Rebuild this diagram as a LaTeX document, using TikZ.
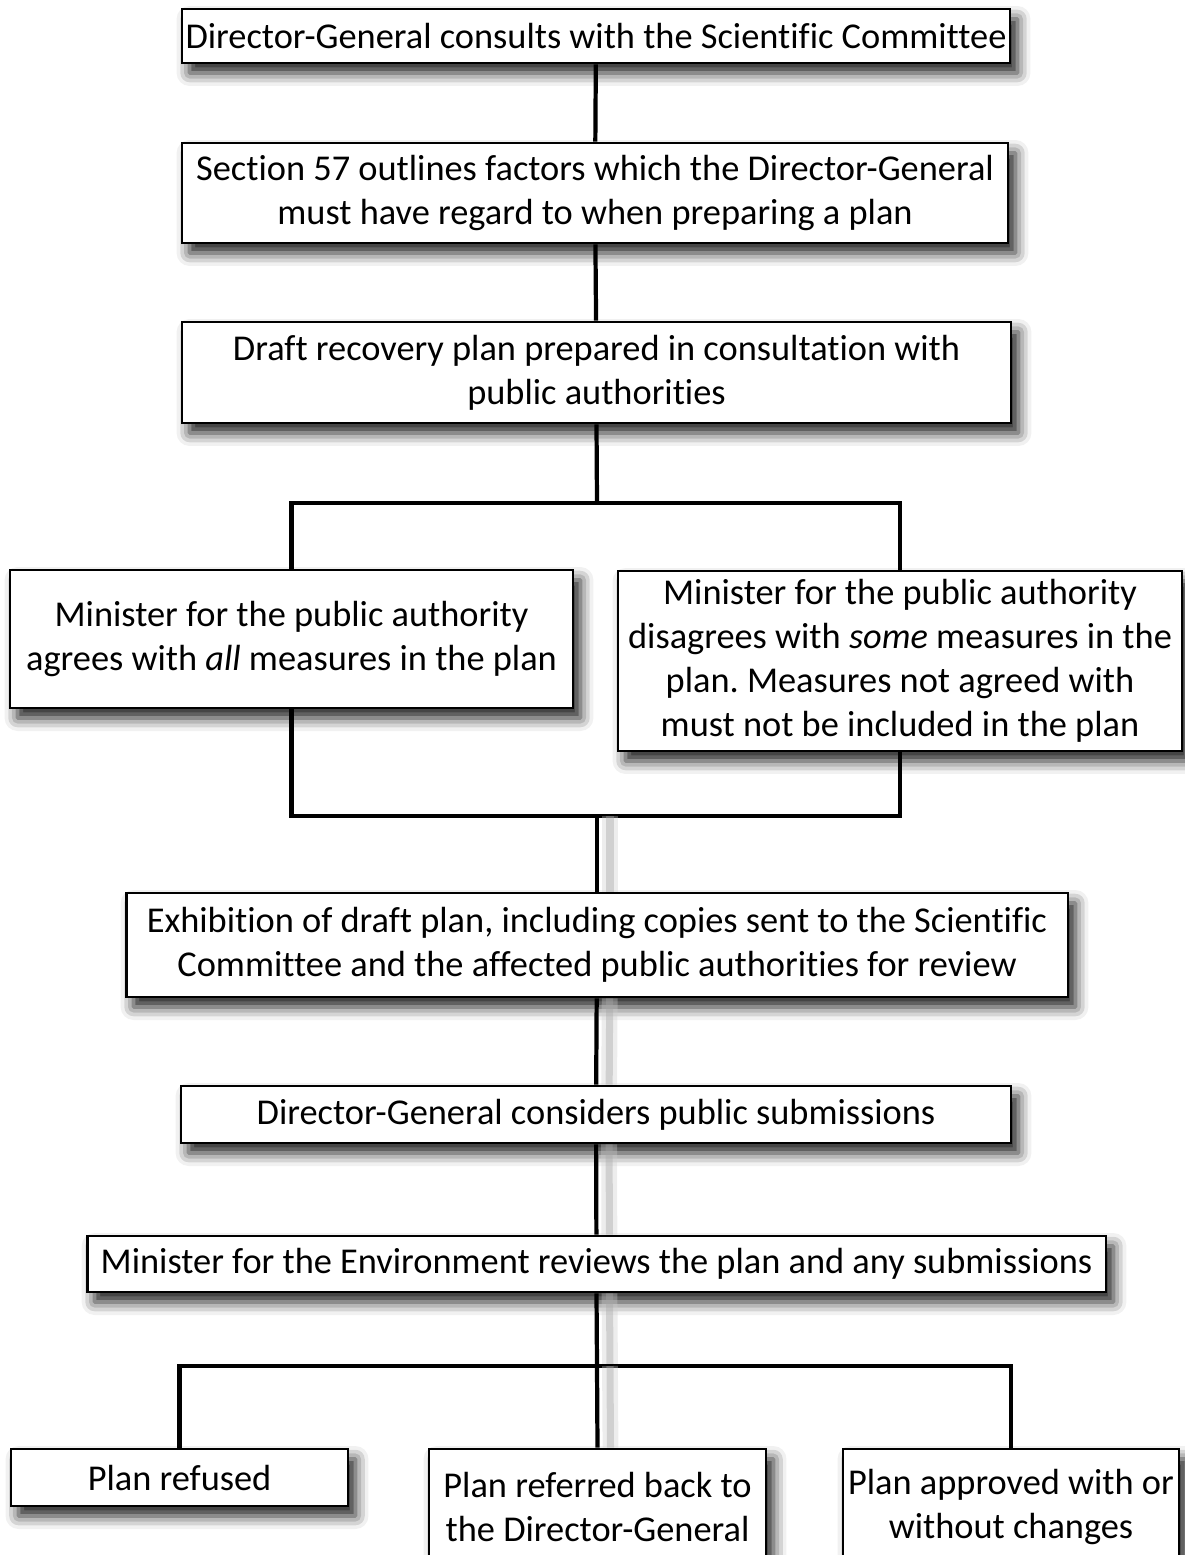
\documentclass[tikz,border=0pt]{standalone}
\usepackage{fontspec}
\setmainfont{Carlito}[Ligatures=NoCommon]
\usepackage{tikz}
\usetikzlibrary{shadows.blur}
\frenchspacing

\begin{document}
\begin{tikzpicture}[x=0.02cm, y=-0.02cm,
  box/.style={draw, line width=1.6pt, fill=white, align=center, inner sep=0pt,
    font=\fontsize{20.7}{25}\selectfont,
    blur shadow={shadow xshift=0.15cm, shadow yshift=-0.2cm,
      shadow blur radius=0.26cm, shadow opacity=90}},
  link/.style={line width=2.4pt},
  shade/.style={preaction={draw, line width=9pt, black!20, opacity=0.35,
    transform canvas={xshift=0.26cm}},
    preaction={draw, line width=4pt, black!35, opacity=0.4,
    transform canvas={xshift=0.26cm}}}]
\useasboundingbox (0,0) rectangle (1185,1555);

% top of the chain
  \node[box, minimum width=16.56cm, minimum height=1.08cm] (consult) at (596,36)
    {Director-General consults with the Scientific Committee};
  \node[box, minimum width=16.52cm, minimum height=2cm] (factors) at (595,193)
    {Section 57 outlines factors which the Director-General\\
     must have regard to when preparing a plan};
  \node[box, minimum width=16.58cm, minimum height=2.02cm] (draft) at (596.5,372.5)
    {Draft recovery plan prepared in consultation with\\ public authorities};

% the two ministers
  \node[box, minimum width=11.26cm, minimum height=2.76cm] (agree) at (291.5,639)
    {Minister for the public authority\\ agrees with \textit{all} measures in the plan};
  \node[box, minimum width=11.28cm, minimum height=3.6cm] (disagree) at (900,661)
    {Minister for the public authority\\ disagrees with \textit{some} measures in the\\
     plan. Measures not agreed with\\ must not be included in the plan};

% exhibition and review
  \node[box, minimum width=18.84cm, minimum height=2.08cm] (exhibit) at (597,945)
    {Exhibition of draft plan, including copies sent to the Scientific\\
     Committee and the affected public authorities for review};
  \node[box, minimum width=16.6cm, minimum height=1.14cm] (considers) at (596,1114.5)
    {Director-General considers public submissions};
  \node[box, minimum width=20.38cm, minimum height=1.12cm] (review) at (596.5,1264)
    {Minister for the Environment reviews the plan and any submissions};

% outcomes
  \node[box, minimum width=6.74cm, minimum height=1.14cm] (refused) at (179.5,1477.5)
    {Plan refused};
  \node[box, minimum width=6.74cm, minimum height=2.32cm] (referred) at (597.5,1507)
    {Plan referred back to\\ the Director-General};
  \node[box, minimum width=6.72cm, minimum height=2.32cm] (approved) at (1011,1507)
    {Plan approved with or\\ without changes};

% junctions
  \coordinate (split) at (597,503);
  \coordinate (merge) at (597,816);
  \coordinate (fork) at (597,1366);

% connectors
  \draw[link] (consult) -- (factors);
  \draw[link] (factors) -- (draft);
  \draw[link] (draft.south) -- (split);
  \draw[link] (agree.north) |- (split) -| (disagree.north);
  \draw[link] (agree.south) |- (merge) -| (disagree.south);
  \draw[link, shade] (merge) -- (exhibit.north);
  \draw[link, shade] (exhibit) -- (considers);
  \draw[link, shade] (considers) -- (review);
  \draw[link, shade] (review.south) -- (fork);
  \draw[link] (refused.north) |- (fork) -| (approved.north);
  \draw[link, shade] (fork) -- (referred.north);

\end{tikzpicture}
\end{document}
